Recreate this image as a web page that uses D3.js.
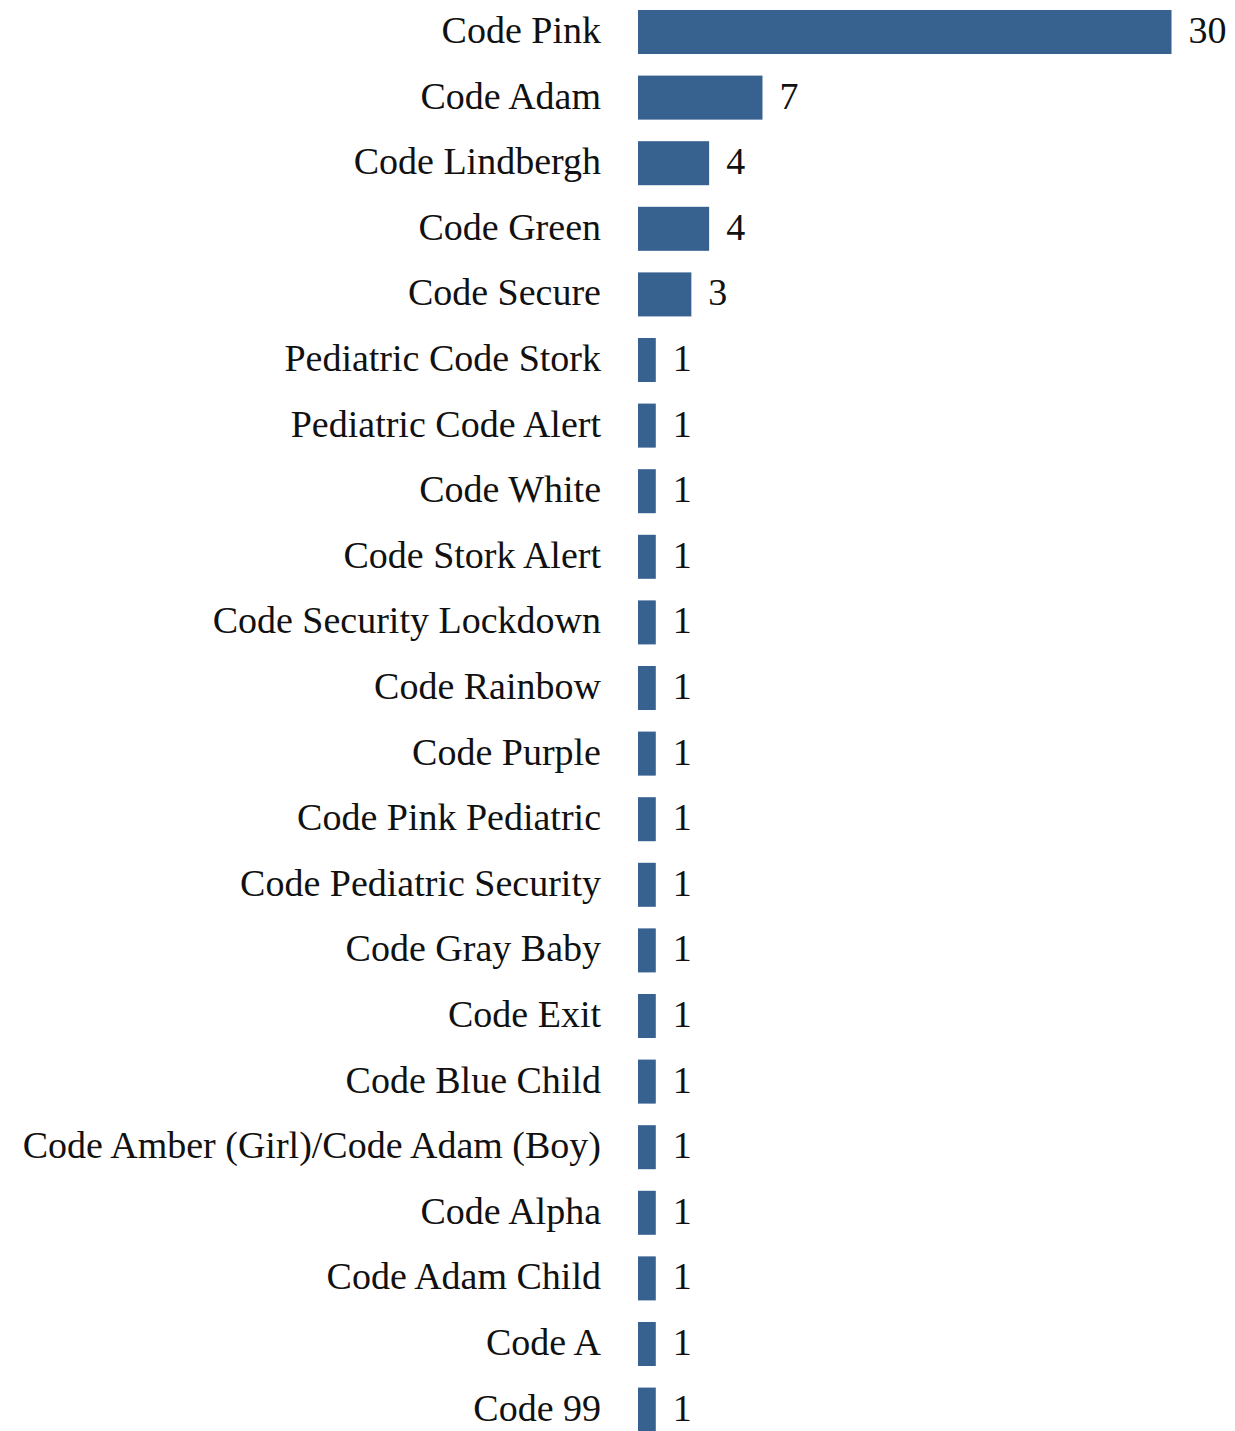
<!DOCTYPE html>
<html>
<head>
<meta charset="utf-8">
<script src="https://cdn.jsdelivr.net/npm/d3@7"></script>
<style>
  html, body { margin: 0; padding: 0; background: #ffffff; }
  svg { display: block; }
</style>
</head>
<body>
<div id="chart"></div>
<script>
const categories = [
  "Code Pink", "Code Adam", "Code Lindbergh", "Code Green", "Code Secure",
  "Pediatric Code Stork", "Pediatric Code Alert", "Code White", "Code Stork Alert",
  "Code Security Lockdown", "Code Rainbow", "Code Purple", "Code Pink Pediatric",
  "Code Pediatric Security", "Code Gray Baby", "Code Exit", "Code Blue Child",
  "Code Amber (Girl)/Code Adam (Boy)", "Code Alpha", "Code Adam Child", "Code A", "Code 99"
];
const values = [30, 7, 4, 4, 3, 1, 1, 1, 1, 1, 1, 1, 1, 1, 1, 1, 1, 1, 1, 1, 1, 1];

const W = 1235, H = 1431;
const barColor = "#37618f";
const fontFamily = "'Liberation Serif', 'Times New Roman', serif";

const svg = d3.select("#chart").append("svg")
  .attr("width", W).attr("height", H);

const x = d3.scaleLinear().domain([0, 30]).range([638, 1171.5]);
const y = d3.scaleBand().domain(categories).range([10, 1431.6])
  .paddingInner(0.329).paddingOuter(0);

const data = categories.map((c, i) => ({ c, v: values[i] }));

svg.append("g").selectAll("rect").data(data).join("rect")
  .attr("x", x(0))
  .attr("y", d => y(d.c))
  .attr("width", d => x(d.v) - x(0))
  .attr("height", y.bandwidth())
  .attr("fill", barColor);

svg.append("g").selectAll("text").data(data).join("text")
  .attr("x", 601)
  .attr("y", d => y(d.c) + y.bandwidth() / 2)
  .attr("dy", "0.29em")
  .attr("text-anchor", "end")
  .attr("font-family", fontFamily)
  .attr("font-size", 38)
  .attr("fill", "#111")
  .text(d => d.c);

svg.append("g").selectAll("text").data(data).join("text")
  .attr("x", d => x(d.v) + 17)
  .attr("y", d => y(d.c) + y.bandwidth() / 2)
  .attr("dy", "0.29em")
  .attr("text-anchor", "start")
  .attr("font-family", fontFamily)
  .attr("font-size", 38)
  .attr("fill", "#111")
  .text(d => d.v);
</script>
</body>
</html>
